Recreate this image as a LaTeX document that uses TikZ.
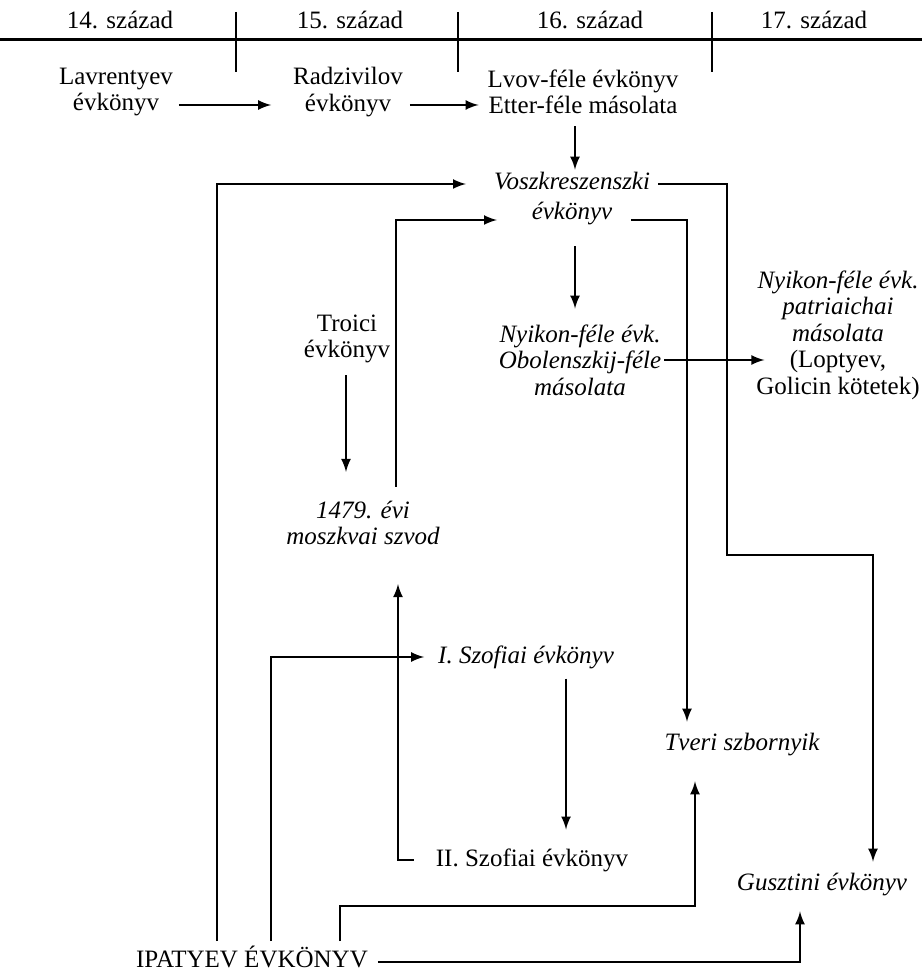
\documentclass[tikz,border=0pt]{standalone}
\usepackage{fontspec}
\setmainfont{Liberation Serif}
\begin{document}
\begin{tikzpicture}[x=0.4pt, y=-0.4pt, line width=0.8pt,
	every node/.style={inner sep=0pt, align=center, font=\fontsize{10}{10.6}\selectfont},
	dolt/.style={font=\fontsize{10}{10.6}\selectfont\itshape}]
	\useasboundingbox (0,0) rectangle (922,971);

	\node (sz14) at (120,20) {14. század};
	\node (sz15) at (350,20) {15. század};
	\node (sz16) at (590,20) {16. század};
	\node (sz17) at (814,20) {17. század};
	\draw[line width=1.2pt] (0,40) -- (922,40);
	\foreach \x in {236,458,712}
		\draw[line width=0.6pt] (\x,12) -- (\x,72);

	\node (lav) at (116,92) {Lavrentyev\\évkönyv};
	\node (rad) at (348,92) {Radzivilov\\évkönyv};
	\node (lvov) at (583,92) {Lvov-féle évkönyv\\Etter-féle másolata};
	\node[font=\fontsize{10}{12}\selectfont\itshape] (vosz) at (572,199) {Voszkreszenszki\\évkönyv};
	\node (troi) at (347,339) {Troici\\évkönyv};
	\node[dolt] (nyik) at (580,360) {Nyikon-féle évk.\\Obolenszkij-féle\\másolata};
	\node (patr) at (838,335) {\textit{Nyikon-féle évk.}\\\textit{patriaichai}\\\textit{másolata}\\(Loptyev,\\Golicin kötetek)};
	\node[dolt] (szvod) at (363,523) {1479. évi\\moszkvai szvod};
	\node[dolt] (isz) at (526,657) {I. Szofiai évkönyv};
	\node[dolt] (tveri) at (742,745) {Tveri szbornyik};
	\node (iisz) at (532,860) {II. Szofiai évkönyv};
	\node[dolt] (gusz) at (822,885) {Gusztini évkönyv};
	\node (ipat) at (252,957) {IPATYEV ÉVKÖNYV};
	\coordinate (fordulo) at (727,555);

	\draw[-latex] ([shift={(5,13)}]lav.east) -- ([shift={(-21,13)}]rad.west);
	\draw[-latex] ([shift={(6,13)}]rad.east) -- ([shift={(-8,13)}]lvov.west);
	\draw[-latex] ([shift={(-8,11)}]lvov.south) -- ([shift={(3,-2)}]vosz.north);

	\draw[-latex] ([shift={(-35,-4)}]ipat.north) |- ([shift={(-27,-15)}]vosz.west);
	\draw[-latex] ([shift={(33,-13)}]szvod.north) |- ([shift={(4,21)}]vosz.west);
	\draw[-latex] ([shift={(-20,21)}]vosz.east) -| ([shift={(-55,-11)}]tveri.north);
	\draw[-latex] ([shift={(7,-15)}]vosz.east) -| (fordulo) -| ([shift={(51,-11)}]gusz.north);
	\draw[-latex] ([shift={(3,20)}]vosz.south) -- ([shift={(-5,-15)}]nyik.north);
	\draw[-latex] ([shift={(2,0)}]nyik.east) -- ([shift={(9,25)}]patr.west);

	\draw[-latex] ([shift={(-1,11)}]troi.south) -- ([shift={(-17,-28)}]szvod.north);
	\draw[-latex] ([shift={(19,-4)}]ipat.north) |- ([shift={(-13,0)}]isz.west);
	\draw[-latex] ([shift={(-21,0)}]iisz.west) -| ([shift={(35,38)}]szvod.south);
	\draw[-latex] ([shift={(40,9)}]isz.south) -- ([shift={(34,-18)}]iisz.north);

	\draw[-latex] ([shift={(88,-4)}]ipat.north) -- ++(0,-35) -| ([shift={(-47,24)}]tveri.south);
	\draw[-latex] ([shift={(9,5)}]ipat.east) -| ([shift={(-22,14)}]gusz.south);
\end{tikzpicture}
\end{document}
